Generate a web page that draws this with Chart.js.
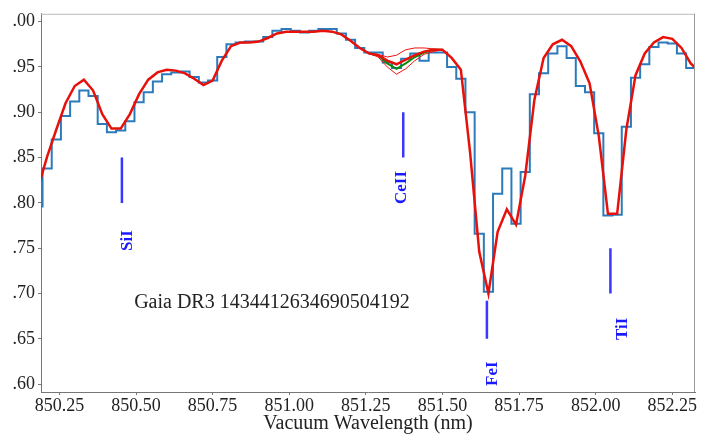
<!DOCTYPE html>
<html>
<head>
<meta charset="utf-8">
<script src="https://cdn.jsdelivr.net/npm/chart.js@4/dist/chart.umd.min.js"></script>
<style>
html, body { margin: 0; padding: 0; background: #fff; }
#wrap { width: 711px; height: 434px; }
</style>
</head>
<body>
<div id="wrap"><canvas id="c" width="711" height="434"></canvas></div>
<script>
// sampling grid (nm)
const wavelengths = [
  850.18, 850.21, 850.24, 850.27, 850.30, 850.33, 850.36, 850.39, 850.42, 850.45,
  850.48, 850.51, 850.54, 850.57, 850.60, 850.63, 850.66, 850.69, 850.72, 850.75,
  850.78, 850.81, 850.84, 850.87, 850.90, 850.93, 850.96, 850.99, 851.02, 851.05,
  851.08, 851.11, 851.14, 851.17, 851.20, 851.23, 851.26, 851.29, 851.32, 851.35,
  851.38, 851.41, 851.44, 851.47, 851.50, 851.53, 851.56, 851.59, 851.62, 851.65,
  851.68, 851.71, 851.74, 851.77, 851.80, 851.83, 851.86, 851.89, 851.92, 851.95,
  851.98, 852.01, 852.04, 852.07, 852.10, 852.13, 852.16, 852.19, 852.22, 852.25,
  852.28, 852.31, 852.34
];
// observed flux (step line)
const observed = [
  0.796, 0.838, 0.870, 0.896, 0.912, 0.924, 0.918, 0.887, 0.878, 0.880,
  0.890, 0.911, 0.922, 0.934, 0.942, 0.944, 0.945, 0.939, 0.933, 0.935,
  0.961, 0.975, 0.977, 0.978, 0.978, 0.983, 0.990, 0.992, 0.990, 0.988,
  0.990, 0.992, 0.992, 0.987, 0.980, 0.971, 0.966, 0.966, 0.955, 0.949,
  0.959, 0.965, 0.957, 0.966, 0.966, 0.950, 0.937, 0.900, 0.766, 0.702,
  0.810, 0.838, 0.777, 0.834, 0.920, 0.943, 0.965, 0.973, 0.960, 0.929,
  0.922, 0.877, 0.786, 0.787, 0.884, 0.938, 0.953, 0.972, 0.977, 0.976,
  0.965, 0.949, 0.941
];
// best fit synthetic spectrum
const model = [
  0.816, 0.851, 0.881, 0.910, 0.929, 0.936, 0.924, 0.898, 0.882, 0.882,
  0.898, 0.920, 0.936, 0.944, 0.947, 0.946, 0.943, 0.937, 0.930, 0.935,
  0.957, 0.973, 0.977, 0.977, 0.978, 0.982, 0.987, 0.989, 0.989, 0.989,
  0.989, 0.990, 0.989, 0.986, 0.979, 0.971, 0.965, 0.963, 0.957, 0.953,
  0.958, 0.963, 0.967, 0.969, 0.969, 0.960, 0.947, 0.856, 0.746, 0.700,
  0.768, 0.793, 0.776, 0.830, 0.914, 0.960, 0.975, 0.980, 0.973, 0.956,
  0.932, 0.874, 0.788, 0.788, 0.881, 0.941, 0.965, 0.977, 0.983, 0.981,
  0.971, 0.954, 0.944
];
// CeII abundance variations
const bandWavelengths = [851.26, 851.29, 851.32, 851.35, 851.38, 851.41, 851.44, 851.47, 851.50];
const bandMid = [0.965, 0.963, 0.954, 0.948, 0.954, 0.961, 0.966, 0.969, 0.969];
const bandUpper = [0.965, 0.964, 0.961, 0.963, 0.969, 0.971, 0.971, 0.970, 0.969];
const bandLower = [0.965, 0.961, 0.950, 0.942, 0.948, 0.957, 0.964, 0.967, 0.969];

// line identifications
const lineNames = ['SiI', 'CeII', 'FeI', 'TiI'];
const lineWavelengths = [850.454, 851.372, 851.645, 852.048];
const lineTop = [0.85, 0.90, 0.692, 0.75];
const lineBottom = [0.80, 0.85, 0.65, 0.70];
const labelWavelengths = [850.474, 851.367, 851.664, 852.088];
const labelLevels = [0.7585, 0.817, 0.6115, 0.661];

const xTicks = [850.25, 850.50, 850.75, 851.00, 851.25, 851.50, 851.75, 852.00, 852.25];
const yTicks = [0.60, 0.65, 0.70, 0.75, 0.80, 0.85, 0.90, 0.95, 1.00];
const yTickLabels = ['.60', '.65', '.70', '.75', '.80', '.85', '.90', '.95', '.00'];
const starName = 'Gaia DR3 1434412634690504192';

const serif = '"Liberation Serif", "DejaVu Serif", serif';
const pts = (xs, ys) => xs.map((x, i) => ({ x: x, y: ys[i] }));

const datasets = [
  { data: pts(wavelengths, model), borderColor: '#e8100a', borderWidth: 2.5 },
  { data: pts(bandWavelengths, bandMid), borderColor: '#0a8a0a', borderWidth: 2 },
  { data: pts(bandWavelengths, bandUpper), borderColor: '#f01010', borderWidth: 1 },
  { data: pts(bandWavelengths, bandLower), borderColor: '#f01010', borderWidth: 1 },
  { data: pts(wavelengths, observed), borderColor: '#2b7bba', borderWidth: 2, stepped: 'middle' }
];
lineNames.forEach((n, i) => {
  datasets.push({
    data: [{ x: lineWavelengths[i], y: lineBottom[i] }, { x: lineWavelengths[i], y: lineTop[i] }],
    borderColor: 'rgba(20,20,255,0.85)', borderWidth: 2.5
  });
});
datasets.forEach(d => { d.pointRadius = 0; d.fill = false; d.tension = 0; });

const extras = {
  id: 'extras',
  afterDatasetsDraw(chart) {
    const ctx = chart.ctx, a = chart.chartArea;
    const xs = chart.scales.x, ys = chart.scales.y;
    ctx.save();
    ctx.lineWidth = 1;
    ctx.strokeStyle = '#bbb';
    ctx.beginPath();
    ctx.moveTo(a.left, a.top + 0.5); ctx.lineTo(a.right, a.top + 0.5);
    ctx.stroke();
    ctx.strokeStyle = '#999';
    ctx.beginPath();
    ctx.moveTo(a.right - 0.5, a.top); ctx.lineTo(a.right - 0.5, a.bottom);
    ctx.stroke();

    ctx.fillStyle = '#222';
    ctx.font = '20px ' + serif;
    ctx.textAlign = 'left';
    ctx.textBaseline = 'middle';
    ctx.fillText(starName, xs.getPixelForValue(850.494), ys.getPixelForValue(0.69));

    ctx.fillStyle = '#1a1aff';
    ctx.font = 'bold 17px ' + serif;
    ctx.textAlign = 'center';
    lineNames.forEach((n, i) => {
      ctx.save();
      ctx.translate(xs.getPixelForValue(labelWavelengths[i]), ys.getPixelForValue(labelLevels[i]));
      ctx.rotate(-Math.PI / 2);
      ctx.fillText(n, 0, 0);
      ctx.restore();
    });
    ctx.restore();
  }
};

new Chart(document.getElementById('c').getContext('2d'), {
  type: 'line',
  data: { datasets: datasets },
  options: {
    responsive: false,
    animation: false,
    layout: { padding: { left: 0, top: 10, right: 16, bottom: 0 } },
    plugins: { legend: { display: false }, tooltip: { enabled: false } },
    scales: {
      x: {
        type: 'linear',
        min: 850.19,
        max: 852.324,
        afterBuildTicks: s => { s.ticks = xTicks.map(v => ({ value: v })); },
        afterFit: s => { s.height = 42; },
        ticks: {
          callback: v => v.toFixed(2),
          font: { family: serif, size: 18, lineHeight: 1 },
          color: '#222',
          padding: 2,
          maxRotation: 0,
          autoSkip: false
        },
        grid: { drawOnChartArea: false, drawTicks: true, tickLength: 3, color: '#777' },
        border: { display: true, color: '#777', width: 1 },
        title: {
          display: true,
          text: 'Vacuum Wavelength (nm)',
          font: { family: serif, size: 20, lineHeight: 1 },
          color: '#222',
          padding: { top: 0, bottom: 0 }
        }
      },
      y: {
        type: 'linear',
        min: 0.5913,
        max: 1.0087,
        afterBuildTicks: s => { s.ticks = yTicks.map(v => ({ value: v })); },
        afterFit: s => { s.width = 41; },
        ticks: {
          callback: (v, i) => yTickLabels[i],
          font: { family: serif, size: 18 },
          color: '#222',
          padding: 3,
          autoSkip: false
        },
        grid: { drawOnChartArea: false, drawTicks: true, tickLength: 3, color: '#777' },
        border: { display: true, color: '#777', width: 1 }
      }
    }
  },
  plugins: [extras]
});
</script>
</body>
</html>
